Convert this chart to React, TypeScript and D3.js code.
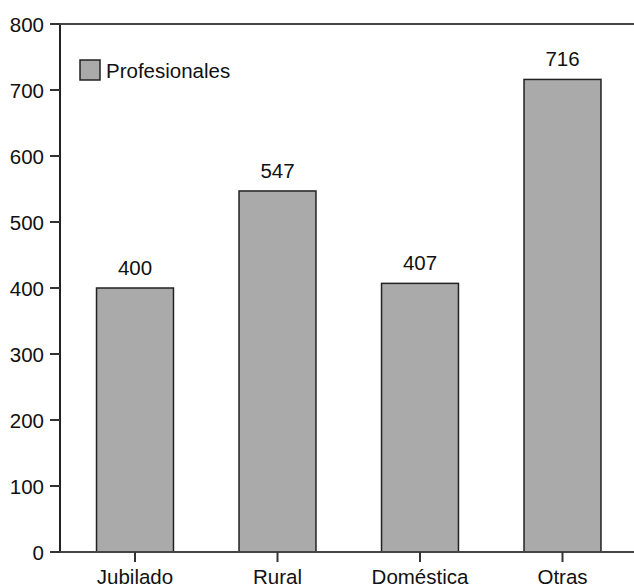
import { useEffect, useRef } from "react"
import * as d3 from "d3"

const categories = ["Jubilado", "Rural", "Doméstica", "Otras"]
const values = [400, 547, 407, 716]
const yTicks = [0, 100, 200, 300, 400, 500, 600, 700, 800]
const seriesName = "Profesionales"

const App = () => {
  const svgRef = useRef<SVGSVGElement | null>(null)

  useEffect(() => {
    if (!svgRef.current) return
    document.body.style.margin = "0"

    const svg = d3.select(svgRef.current)
    svg.selectAll("*").remove()

    const width = 634
    const axisX = 60
    const font = "'Liberation Sans', Arial, sans-serif"
    const fontSize = "20.5px"

    const x = d3.scaleBand().domain(categories).range([63.75, 633.75]).paddingInner(0.46).paddingOuter(0.23)
    const y = d3.scaleLinear().domain([0, 800]).range([552, 24])

    // bars
    svg
      .append("g")
      .selectAll("rect")
      .data(values)
      .join("rect")
      .attr("x", (_, i) => x(categories[i])!)
      .attr("y", (d) => y(d))
      .attr("width", x.bandwidth())
      .attr("height", (d) => y(0) - y(d))
      .attr("fill", "#aaaaaa")
      .attr("stroke", "#222")
      .attr("stroke-width", 1.5)

    // value labels
    svg
      .append("g")
      .selectAll("text")
      .data(values)
      .join("text")
      .attr("x", (_, i) => x(categories[i])! + x.bandwidth() / 2)
      .attr("y", (d) => y(d) - 13)
      .attr("text-anchor", "middle")
      .style("font-family", font)
      .style("font-size", fontSize)
      .attr("fill", "#111")
      .text((d) => d)

    // y axis
    const yAxis = svg.append("g")
    yAxis
      .append("line")
      .attr("x1", axisX)
      .attr("x2", axisX)
      .attr("y1", y(800))
      .attr("y2", y(0))
      .attr("stroke", "#222")
      .attr("stroke-width", 2)
    yTicks.forEach((t) => {
      yAxis
        .append("line")
        .attr("x1", axisX - 10)
        .attr("x2", axisX)
        .attr("y1", y(t))
        .attr("y2", y(t))
        .attr("stroke", "#333")
        .attr("stroke-width", 2)
      yAxis
        .append("text")
        .attr("x", 44)
        .attr("y", y(t) + 7.5)
        .attr("text-anchor", "end")
        .style("font-family", font)
        .style("font-size", fontSize)
        .attr("fill", "#111")
        .text(t)
    })

    // top and bottom lines
    ;[800, 0].forEach((v) => {
      svg
        .append("line")
        .attr("x1", axisX)
        .attr("x2", width)
        .attr("y1", y(v))
        .attr("y2", y(v))
        .attr("stroke", "#444")
        .attr("stroke-width", 2)
    })

    // x ticks and labels
    categories.forEach((c) => {
      const cx = x(c)! + x.bandwidth() / 2
      svg
        .append("line")
        .attr("x1", cx)
        .attr("x2", cx)
        .attr("y1", y(0))
        .attr("y2", y(0) + 10)
        .attr("stroke", "#333")
        .attr("stroke-width", 2)
      svg
        .append("text")
        .attr("x", cx)
        .attr("y", 584)
        .attr("text-anchor", "middle")
        .style("font-family", font)
        .style("font-size", fontSize)
        .attr("fill", "#111")
        .text(c)
    })

    // legend
    const legend = svg.append("g").attr("transform", "translate(80,60)")
    legend
      .append("rect")
      .attr("width", 20)
      .attr("height", 20)
      .attr("fill", "#aaaaaa")
      .attr("stroke", "#222")
      .attr("stroke-width", 1.5)
    legend
      .append("text")
      .attr("x", 26)
      .attr("y", 18)
      .style("font-family", font)
      .style("font-size", fontSize)
      .attr("fill", "#111")
      .text(seriesName)
  }, [])

  return <svg ref={svgRef} width={634} height={588} style={{ display: "block" }} />
}

export default App
